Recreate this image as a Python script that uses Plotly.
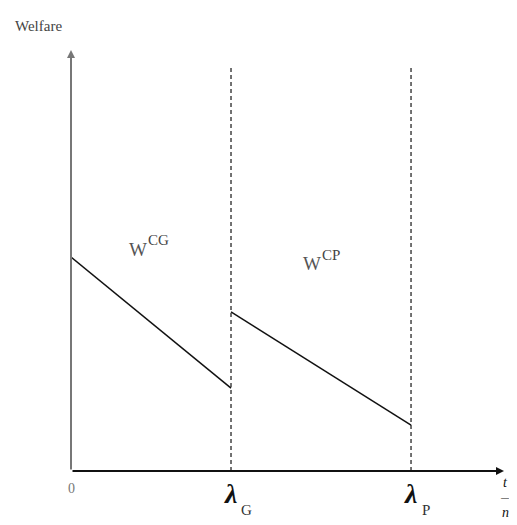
import plotly.graph_objects as go

# regime thresholds on the t/n axis (lambda_G normalised to 1)
threshold_names = ["G", "P"]
threshold_x = [1.0, 2.125]

# welfare segments
cg_x = [0.0, 1.0]
cg_y = [0.508, 0.197]
cp_x = [1.0, 2.125]
cp_y = [0.378, 0.109]

# segment labels: superscript and anchor of the W
seg_sup = ["CG", "CP"]
seg_x = [0.416, 1.503]
seg_y = [0.527, 0.492]

x_max = 2.706
y_max = 1.0
dash_top = 0.96

SERIF = "Liberation Serif, Times New Roman, serif"

fig = go.Figure()

# dashed verticals at the thresholds
for tx in threshold_x:
    fig.add_trace(go.Scatter(
        x=[tx, tx], y=[0, dash_top], mode="lines",
        line=dict(color="#444444", width=1.5, dash="4px,3px"),
        hoverinfo="skip", showlegend=False))

# welfare lines
for xs, ys in [(cg_x, cg_y), (cp_x, cp_y)]:
    fig.add_trace(go.Scatter(
        x=xs, y=ys, mode="lines",
        line=dict(color="#111111", width=1.5),
        hoverinfo="skip", showlegend=False))

annotations = []
# axes drawn as arrows
annotations.append(dict(x=0, y=y_max, ax=0, ay=0, xref="x", yref="y",
                        axref="x", ayref="y", showarrow=True, arrowhead=2,
                        arrowsize=0.8, arrowwidth=2, arrowcolor="#777777", text=""))
annotations.append(dict(x=x_max, y=0, ax=0, ay=0, xref="x", yref="y",
                        axref="x", ayref="y", showarrow=True, arrowhead=2,
                        arrowsize=0.8, arrowwidth=2, arrowcolor="#111111", text=""))

def label(text, x, y, dx=0, dy=0, size=14, color="#444444", anchor="center"):
    annotations.append(dict(text=text, x=x, y=y, xref="x", yref="y",
                            xshift=dx, yshift=dy, showarrow=False, xanchor=anchor,
                            font=dict(family=SERIF, size=size, color=color)))

label("Welfare", 0, y_max, dx=-33, dy=24, size=15)
label("0", 0, 0, dy=-17, size=14, color="#777777")

# lambda tick labels
for name, tx in zip(threshold_names, threshold_x):
    label("<i><b>λ</b></i>", tx, 0, dx=-1, dy=-22, size=28, color="#111111")
    label(name, tx, 0, dx=15, dy=-39, size=15, color="#333333")

# t / n axis label
label("<i>t</i>", x_max, 0, dx=1, dy=-11, size=14, color="#111111")
label("—", x_max, 0, dx=1, dy=-26, size=8, color="#111111")
label("<i>n</i>", x_max, 0, dx=1, dy=-41, size=14, color="#111111")

# segment labels
for sup, sx, sy in zip(seg_sup, seg_x, seg_y):
    label("W", sx, sy, size=19, color="#555555")
    label(sup, sx, sy, dx=8, dy=9, size=15, anchor="left")

fig.update_layout(
    width=509, height=517,
    margin=dict(l=63, r=13, t=42, b=54),
    paper_bgcolor="white", plot_bgcolor="white",
    xaxis=dict(range=[0, x_max], visible=False, fixedrange=True),
    yaxis=dict(range=[0, y_max], visible=False, fixedrange=True),
    annotations=annotations,
    showlegend=False,
)

fig.write_html("out.html")
